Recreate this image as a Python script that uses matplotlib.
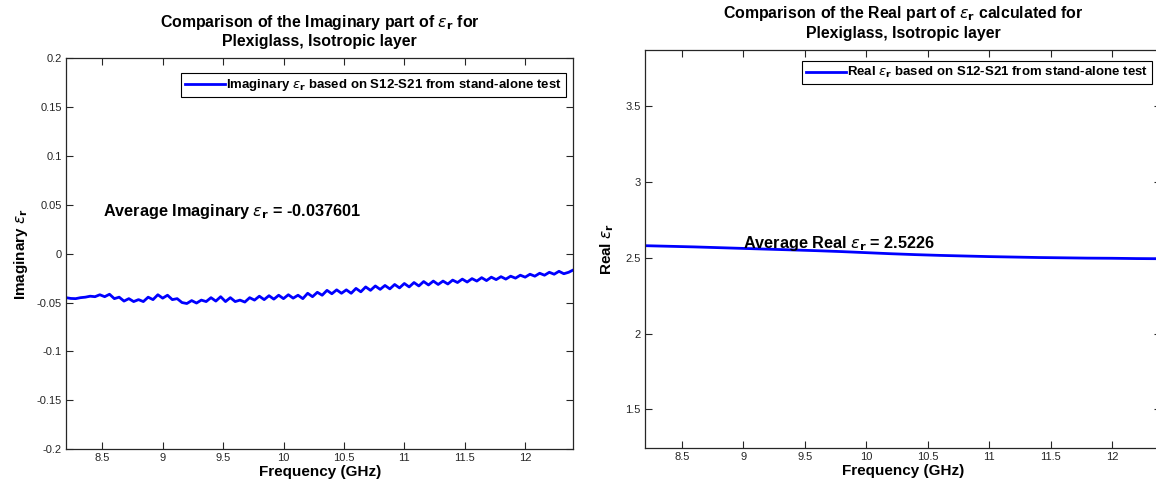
import numpy as np
import matplotlib
matplotlib.use('Agg')
import matplotlib.pyplot as plt

plt.rcParams['font.family'] = ['Liberation Sans', 'DejaVu Sans']
plt.rcParams['axes.unicode_minus'] = False
plt.rcParams['mathtext.fontset'] = 'dejavusans'

# imaginary part (8.2 .. 12.4 GHz, even spacing)
imag_vals = [
    -0.0450, -0.0458, -0.0460, -0.0450, -0.0445, -0.0435, -0.0440, -0.0420,
    -0.0440, -0.0415, -0.0460, -0.0445, -0.0485, -0.0460, -0.0490, -0.0470,
    -0.0490, -0.0445, -0.0470, -0.0420, -0.0455, -0.0425, -0.0470, -0.0460,
    -0.0500, -0.0510, -0.0480, -0.0505, -0.0475, -0.0490, -0.0450, -0.0485,
    -0.0440, -0.0490, -0.0450, -0.0490, -0.0475, -0.0495, -0.0450, -0.0475,
    -0.0435, -0.0470, -0.0430, -0.0465, -0.0425, -0.0460, -0.0420, -0.0455,
    -0.0425, -0.0460, -0.0405, -0.0440, -0.0395, -0.0425, -0.0375, -0.0410,
    -0.0370, -0.0405, -0.0370, -0.0405, -0.0355, -0.0390, -0.0340, -0.0375,
    -0.0330, -0.0365, -0.0325, -0.0360, -0.0315, -0.0350, -0.0305, -0.0340,
    -0.0295, -0.0330, -0.0285, -0.0320, -0.0280, -0.0315, -0.0280, -0.0310,
    -0.0270, -0.0295, -0.0260, -0.0290, -0.0255, -0.0280, -0.0245, -0.0275,
    -0.0240, -0.0265, -0.0235, -0.0260, -0.0230, -0.0250, -0.0220, -0.0240,
    -0.0210, -0.0230, -0.0200, -0.0220, -0.0190, -0.0210, -0.0180, -0.0205,
    -0.0190, -0.0165,
]
freq_imag = np.linspace(8.2, 12.4, len(imag_vals))

# real part
real_vals = [
    2.580, 2.576, 2.572, 2.567, 2.562, 2.557, 2.552, 2.547, 2.541, 2.534, 2.527,
    2.521, 2.516, 2.512, 2.508, 2.505, 2.502, 2.500, 2.498, 2.497, 2.495, 2.494,
]
freq_real = np.linspace(8.2, 12.4, len(real_vals))

avg_imag = -0.037601
avg_real = 2.5226

xticks = [8.5, 9, 9.5, 10, 10.5, 11, 11.5, 12]
xticklabels = ['8.5', '9', '9.5', '10', '10.5', '11', '11.5', '12']
imag_yticks = [-0.2, -0.15, -0.1, -0.05, 0, 0.05, 0.1, 0.15, 0.2]
imag_yticklabels = ['-0.2', '-0.15', '-0.1', '-0.05', '0', '0.05', '0.1', '0.15', '0.2']
real_yticks = [1.5, 2, 2.5, 3, 3.5]
real_yticklabels = ['1.5', '2', '2.5', '3', '3.5']

eps = r'$\epsilon_\mathbf{r}$'

fig = plt.figure(figsize=(11.56, 4.87), dpi=100)
ax1 = fig.add_axes([0.0571, 0.078, 0.4390, 0.802])
ax2 = fig.add_axes([0.558, 0.080, 0.4465, 0.817])


def style(ax):
    for s in ax.spines.values():
        s.set_color('#262626')
        s.set_linewidth(0.9)
    ax.tick_params(direction='in', top=True, right=True, length=5, width=0.8,
                   labelsize=8, colors='#262626', pad=3)
    ax.set_xticks(xticks)
    ax.set_xticklabels(xticklabels)
    ax.set_xlim(8.2, 12.4)
    ax.set_xlabel('Frequency (GHz)', fontsize=11, fontweight='bold', labelpad=1)


def legend(ax, anchor):
    leg = ax.legend(loc='upper right', bbox_to_anchor=anchor, fancybox=False,
                    framealpha=1, edgecolor='black',
                    prop={'weight': 'bold', 'size': 9.5}, handlelength=3.0,
                    borderaxespad=0, borderpad=0.3, handletextpad=0.1)
    leg.get_frame().set_linewidth(0.8)


ax1.plot(freq_imag, imag_vals, color=(0, 0, 1), lw=2,
         label='Imaginary ' + eps + ' based on S12-S21 from stand-alone test')
style(ax1)
ax1.set_ylim(-0.2, 0.2)
ax1.set_yticks(imag_yticks)
ax1.set_yticklabels(imag_yticklabels)
ax1.set_ylabel('Imaginary ' + eps, fontsize=11, fontweight='bold', labelpad=5)
ax1.set_title('Comparison of the Imaginary part of ' + eps + ' for\nPlexiglass, Isotropic layer',
              fontsize=11.4, fontweight='bold', pad=9, linespacing=1.2)
ax1.text(8.51, 0.0385, 'Average Imaginary ' + eps + ' = ' + str(avg_imag),
         fontsize=11.7, fontweight='bold', va='baseline')
legend(ax1, (0.985, 0.962))

ax2.plot(freq_real, real_vals, color=(0, 0, 1), lw=2,
         label='Real ' + eps + ' based on S12-S21 from stand-alone test')
style(ax2)
ax2.set_ylim(1.245, 3.87)
ax2.set_yticks(real_yticks)
ax2.set_yticklabels(real_yticklabels)
ax2.set_ylabel('Real ' + eps, fontsize=11, fontweight='bold', labelpad=7)
ax2.set_title('Comparison of the Real part of ' + eps + ' calculated for\nPlexiglass, Isotropic layer',
              fontsize=11.4, fontweight='bold', pad=9, linespacing=1.2)
ax2.text(9.0, 2.562, 'Average Real ' + eps + ' = ' + str(avg_real),
         fontsize=11.7, fontweight='bold', va='baseline')
legend(ax2, (0.9826, 0.972))

fig.savefig('out.png', dpi=100)
